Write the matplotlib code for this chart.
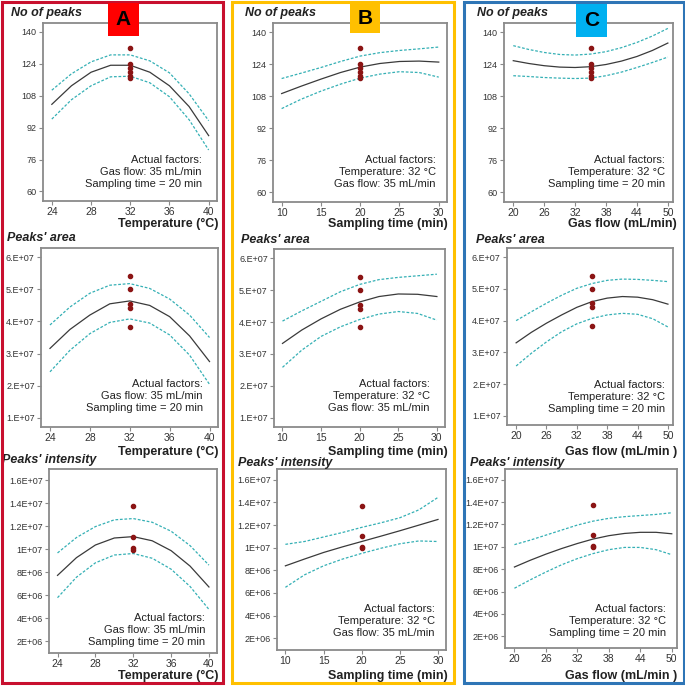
import numpy as np
import matplotlib.pyplot as plt
from matplotlib.patches import Rectangle

plt.rcParams['font.family'] = ['Liberation Sans', 'DejaVu Sans']

W, H = 685, 686

temp_x = [24, 26, 28, 30, 32, 34, 36, 38, 40]
time_x = [10, 12.5, 15, 17.5, 20, 22.5, 25, 27.5, 30]
flow_x = [20, 23, 26, 29, 32, 35, 38, 41, 44, 47, 50]

# centre point replicates
temp_c, time_c, flow_c = 32, 20, 35
peaks_obs = [132, 124, 122, 120, 118, 117]
area_obs = [5.42, 5.0, 4.55, 4.42, 3.83]          # x 1e7
inten_obs = [13.7, 11.05, 10.07, 9.95]             # x 1e6

# No of peaks
peaks_temp_fit = [103.7, 113.0, 119.8, 123.3, 123.3, 119.8, 113.0, 102.6, 88.0]
peaks_temp_hi = [110.8, 119.0, 125.0, 128.5, 128.5, 125.5, 119.5, 109.0, 95.5]
peaks_temp_lo = [96.3, 106.0, 113.0, 117.5, 117.8, 114.5, 107.5, 96.0, 80.8]
peaks_time_fit = [109.3, 113.0, 116.5, 119.8, 122.5, 124.3, 125.3, 125.5, 125.0]
peaks_time_hi = [116.8, 119.5, 122.3, 125.3, 128.0, 129.7, 130.8, 131.6, 132.5]
peaks_time_lo = [101.8, 106.5, 110.5, 114.0, 117.0, 119.0, 120.2, 119.8, 117.5]
peaks_flow_fit = [125.7, 124.3, 123.2, 122.5, 122.3, 122.7, 123.8, 125.5, 127.8, 130.8, 134.5]
peaks_flow_hi = [133.2, 131.3, 129.8, 128.8, 128.5, 129.0, 130.2, 132.2, 134.8, 138.0, 141.8]
peaks_flow_lo = [118.2, 117.8, 117.3, 117.0, 116.8, 117.0, 118.2, 120.0, 122.3, 124.8, 127.5]

# Peaks' area (x 1e7)
area_temp_fit = [3.16, 3.75, 4.2, 4.55, 4.64, 4.5, 4.15, 3.55, 2.75]
area_temp_hi = [3.89, 4.45, 4.88, 5.13, 5.18, 5.03, 4.7, 4.2, 3.5]
area_temp_lo = [2.43, 3.1, 3.62, 3.97, 4.08, 3.95, 3.58, 2.95, 2.04]
area_time_fit = [3.33, 3.75, 4.1, 4.4, 4.63, 4.8, 4.88, 4.87, 4.8]
area_time_hi = [4.03, 4.35, 4.65, 4.95, 5.18, 5.33, 5.4, 5.45, 5.5]
area_time_lo = [2.58, 3.12, 3.55, 3.85, 4.08, 4.25, 4.33, 4.27, 4.06]
area_flow_fit = [3.3, 3.63, 3.92, 4.18, 4.42, 4.6, 4.71, 4.76, 4.74, 4.66, 4.52]
area_flow_hi = [4.0, 4.28, 4.55, 4.8, 5.02, 5.17, 5.27, 5.31, 5.3, 5.27, 5.23]
area_flow_lo = [2.57, 2.97, 3.33, 3.65, 3.9, 4.07, 4.18, 4.23, 4.2, 4.06, 3.8]

# Peaks' intensity (x 1e6)
inten_temp_fit = [7.71, 9.25, 10.35, 10.96, 11.08, 10.72, 9.86, 8.52, 6.7]
inten_temp_hi = [9.66, 11.0, 11.95, 12.54, 12.65, 12.33, 11.55, 10.3, 8.6]
inten_temp_lo = [5.77, 7.55, 8.8, 9.48, 9.61, 9.2, 8.25, 6.75, 4.75]
inten_time_fit = [8.4, 9.0, 9.58, 10.08, 10.55, 11.02, 11.5, 12.0, 12.5]
inten_time_hi = [10.3, 10.55, 10.95, 11.35, 11.8, 12.2, 12.65, 13.35, 14.45]
inten_time_lo = [6.5, 7.6, 8.4, 9.0, 9.5, 9.95, 10.35, 10.6, 10.55]
inten_flow_fit = [8.2, 8.8, 9.35, 9.85, 10.3, 10.7, 11.0, 11.2, 11.3, 11.3, 11.17]
inten_flow_hi = [10.2, 10.6, 11.05, 11.5, 11.95, 12.3, 12.55, 12.7, 12.8, 12.9, 13.05]
inten_flow_lo = [6.3, 7.05, 7.75, 8.4, 8.95, 9.4, 9.75, 9.95, 9.95, 9.75, 9.3]

peaks_ticks = [60, 76, 92, 108, 124, 140]
area_ticks = [1, 2, 3, 4, 5, 6]
area_labels = ['1.E+07', '2.E+07', '3.E+07', '4.E+07', '5.E+07', '6.E+07']
inten_ticks = [2, 4, 6, 8, 10, 12, 14, 16]
inten_labels = ['2E+06', '4E+06', '6E+06', '8E+06', '1E+07', '1.2E+07', '1.4E+07', '1.6E+07']

temp_ticks = [24, 28, 32, 36, 40]
time_ticks = [10, 15, 20, 25, 30]
flow_ticks = [20, 26, 32, 38, 44, 50]

fig = plt.figure(figsize=(W / 100, H / 100), dpi=100)

def px_box(l, t, r, b):
    return [l / W, 1 - b / H, (r - l) / W, (b - t) / H]

cols = [
    dict(x=temp_x, c=temp_c, xt=temp_ticks, xlim=(23.1, 40.85), xlabel=['Temperature (°C)'] * 3,
         note='Actual factors:\nGas flow: 35 mL/min\nSampling time = 20 min',
         curves=[(peaks_temp_fit, peaks_temp_hi, peaks_temp_lo),
                 (area_temp_fit, area_temp_hi, area_temp_lo),
                 (inten_temp_fit, inten_temp_hi, inten_temp_lo)],
         boxes=[(43, 23, 217, 201), (41, 248, 218, 427), (49, 469, 217, 653)],
         xr=218, off=[(15, 12), (15, 14), (12, 6)]),
    dict(x=time_x, c=time_c, xt=time_ticks, xlim=(8.9, 31.05), xlabel=['Sampling time (min)'] * 3,
         note='Actual factors:\nTemperature: 32 °C\nGas flow: 35 mL/min',
         curves=[(peaks_time_fit, peaks_time_hi, peaks_time_lo),
                 (area_time_fit, area_time_hi, area_time_lo),
                 (inten_time_fit, inten_time_hi, inten_time_lo)],
         boxes=[(273, 23, 447, 202), (274, 249, 445, 427), (277, 469, 446, 650)],
         xr=448, off=[(11, 13), (15, 14), (11, 12)]),
    dict(x=flow_x, c=flow_c, xt=flow_ticks, xlim=(18.2, 51.0),
         xlabel=['Gas flow (mL/min)', 'Gas flow (mL/min )', 'Gas flow (mL/min )'],
         note='Actual factors:\nTemperature: 32 °C\nSampling time = 20 min',
         curves=[(peaks_flow_fit, peaks_flow_hi, peaks_flow_lo),
                 (area_flow_fit, area_flow_hi, area_flow_lo),
                 (inten_flow_fit, inten_flow_hi, inten_flow_lo)],
         boxes=[(504, 23, 673, 202), (507, 248, 673, 425), (505, 469, 677, 648)],
         xr=677, off=[(8, 13), (8, 11), (11, 10)]),
]

rows = [
    dict(obs=peaks_obs, yt=peaks_ticks, yl=[str(v) for v in peaks_ticks], ylim=(55.2, 144.5),
         title='No of peaks', xlab_y=224),
    dict(obs=area_obs, yt=area_ticks, yl=area_labels, ylim=(0.71, 6.29),
         title="Peaks' area", xlab_y=452),
    dict(obs=inten_obs, yt=inten_ticks, yl=inten_labels, ylim=(0.96, 16.96),
         title="Peaks' intensity", xlab_y=676),
]

title_pos = [[(11, 13), (245, 13), (477, 13)],
             [(7, 238), (241, 240), (476, 240)],
             [(2, 460), (238, 463), (470, 463)]]

for j, col in enumerate(cols):
    for i, row in enumerate(rows):
        ax = fig.add_axes(px_box(*col['boxes'][i]))
        fit, hi, lo = col['curves'][i]
        ax.plot(col['x'], fit, color='#3a3a3a', lw=0.9)
        ax.plot(col['x'], hi, color='#35b0b5', lw=0.9, ls=(0, (2.2, 1.4)))
        ax.plot(col['x'], lo, color='#35b0b5', lw=0.9, ls=(0, (2.2, 1.4)))
        ax.scatter([col['c']] * len(row['obs']), row['obs'], s=9, color='#8b1414', zorder=3)
        ax.set_xlim(*col['xlim'])
        ax.set_ylim(*row['ylim'])
        ax.set_xticks(col['xt'])
        ax.set_yticks(row['yt'])
        ax.set_yticklabels(row['yl'])
        ax.tick_params(axis='x', labelsize=7.5, colors='#8a8a8a', labelcolor='#333333',
                       length=3, width=0.8, pad=1)
        ax.tick_params(axis='y', labelsize=6.5, colors='#8a8a8a', labelcolor='#333333',
                       length=3, width=0.8, pad=1.5)
        for s in ax.spines.values():
            s.set_color('#8a8a8a')
            s.set_linewidth(1.3)
        dx, dy = col['off'][i]
        ax.annotate(col['note'], xy=(1, 0), xycoords='axes fraction', xytext=(-dx, dy),
                    textcoords='offset pixels', ha='right', va='bottom', fontsize=8,
                    linespacing=1.25, color='#222222')
        tx, ty = title_pos[i][j]
        fig.text(tx / W, 1 - ty / H, row['title'], fontsize=9, fontweight='bold',
                 style='italic', ha='left', va='center', color='#222222')
        fig.text(col['xr'] / W, 1 - row['xlab_y'] / H, col['xlabel'][i], fontsize=9,
                 fontweight='bold', ha='right', va='center', color='#222222')

# coloured frames around the three columns
frames = [((1.5, 1.5, 222.5, 683), '#c8102e'),
          ((231.5, 1.5, 453.5, 683), '#ffc000'),
          ((463.5, 1.5, 683.5, 683), '#2e75b6')]
for (l, t, r, b), c in frames:
    fig.patches.append(Rectangle((l / W, 1 - b / H), (r - l) / W, (b - t) / H, fill=False,
                                 edgecolor=c, lw=2.2, transform=fig.transFigure, zorder=5))

# letter tags
tags = [('A', (108, 3, 139, 36), '#ff0000'),
        ('B', (350, 4, 380, 33), '#ffc000'),
        ('C', (576, 4, 607, 37), '#00b0f0')]
for lab, (l, t, r, b), c in tags:
    fig.patches.append(Rectangle((l / W, 1 - b / H), (r - l) / W, (b - t) / H, facecolor=c,
                                 edgecolor='none', transform=fig.transFigure, zorder=5))
    fig.text((l + r) / 2 / W, 1 - (t + b) / 2 / H, lab, fontsize=15, fontweight='bold',
             ha='center', va='center', color='black', zorder=6)

fig.savefig('out.png', dpi=100)
